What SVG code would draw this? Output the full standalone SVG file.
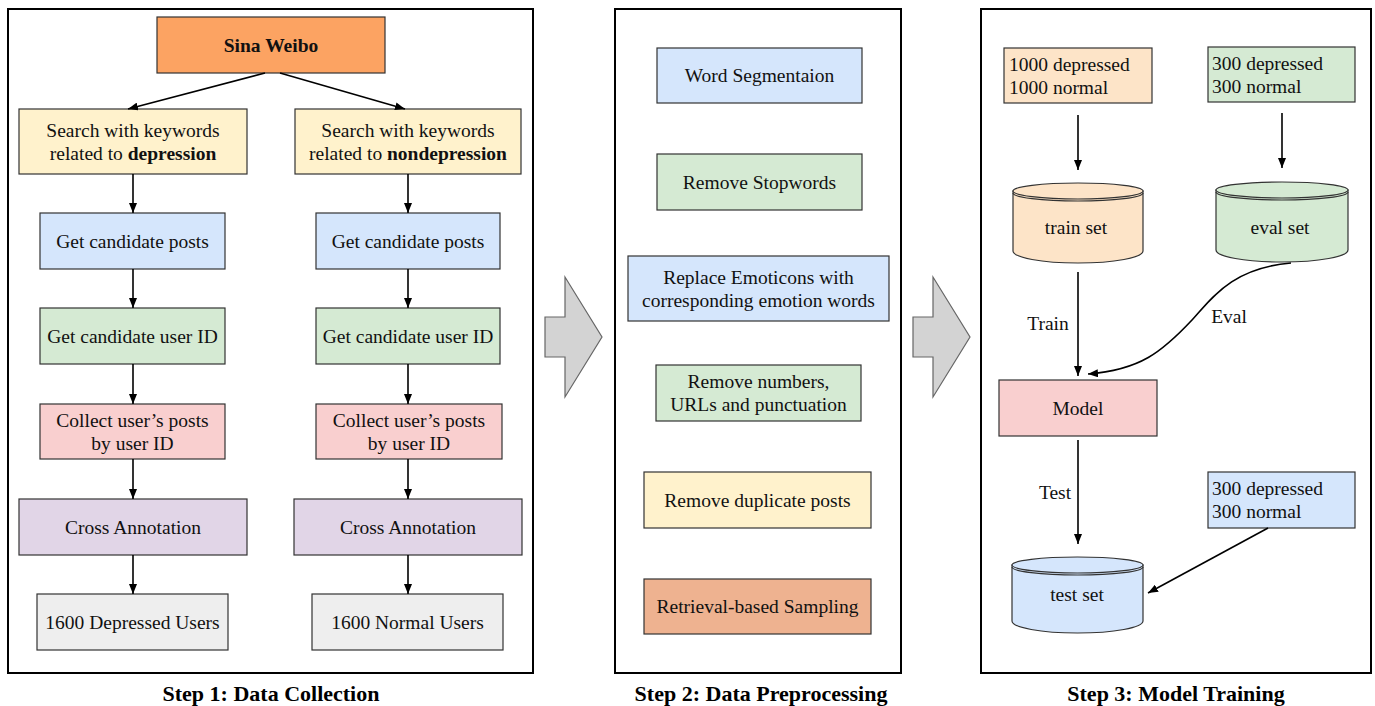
<svg xmlns="http://www.w3.org/2000/svg" width="1375" height="706" viewBox="0 0 1375 706">
  <defs>
    <marker id="ah" markerWidth="10" markerHeight="8" refX="10" refY="4" orient="auto" markerUnits="userSpaceOnUse">
      <path d="M0,0 L10,4 L0,8 Z" fill="#000"/>
    </marker>
    <style>
      .panel { fill: #fff; stroke: #000; stroke-width: 2; }
      .box { stroke: #333; stroke-width: 1.2; }
      .t { font-family: "Liberation Serif", "Times New Roman", serif; font-size: 19.5px; fill: #111; text-anchor: middle; }
      .tl { font-family: "Liberation Serif", "Times New Roman", serif; font-size: 19.5px; fill: #111; text-anchor: start; }
      .b { font-weight: bold; }
      .title { font-family: "Liberation Serif", "Times New Roman", serif; font-size: 22px; font-weight: bold; fill: #000; text-anchor: middle; }
      .conn { stroke: #000; stroke-width: 1.6; fill: none; }
      .big { fill: #d3d3d3; stroke: #666; stroke-width: 1.2; }
      .orange { fill: #fca362; }
      .yellow { fill: #fff2cc; }
      .blue { fill: #d5e6fc; }
      .green { fill: #d5ead3; }
      .pink { fill: #f9cfcf; }
      .purple { fill: #e1d5e7; }
      .gray { fill: #eeeeee; }
      .salmon { fill: #eeb290; }
      .peach { fill: #fde4c8; }
    </style>
  </defs>

  <!-- panel frames -->
  <rect class="panel" x="8" y="9" width="525" height="664"/>
  <rect class="panel" x="615" y="9" width="286" height="664"/>
  <rect class="panel" x="981" y="9" width="390" height="664"/>

  <!-- block arrows between stages -->
  <polygon class="big" points="545,317 565,317 565,277 602,337 565,397 565,357 545,357"/>
  <polygon class="big" points="913,317 933,317 933,277 970,337 933,397 933,357 913,357"/>

  <!-- Step 1: data collection -->
  <g id="sina-weibo">
    <rect class="box orange" x="157" y="17" width="228" height="56"/>
    <text class="t b" x="271" y="52">Sina Weibo</text>
  </g>
  <g id="search-dep">
    <rect class="box yellow" x="19" y="109" width="228" height="65"/>
    <text class="t" x="133" y="136.5">Search with keywords</text>
    <text class="t" x="133" y="160">related to <tspan class="b">depression</tspan></text>
  </g>
  <g id="search-nondep">
    <rect class="box yellow" x="295" y="109" width="226" height="65"/>
    <text class="t" x="408" y="136.5">Search with keywords</text>
    <text class="t" x="408" y="160">related to <tspan class="b">nondepression</tspan></text>
  </g>
  <g id="posts-dep">
    <rect class="box blue" x="40" y="213" width="185" height="56"/>
    <text class="t" x="132.5" y="248">Get candidate posts</text>
  </g>
  <g id="posts-nondep">
    <rect class="box blue" x="316" y="213" width="184" height="56"/>
    <text class="t" x="408" y="248">Get candidate posts</text>
  </g>
  <g id="uid-dep">
    <rect class="box green" x="40" y="308" width="185" height="56"/>
    <text class="t" x="132.5" y="343">Get candidate user ID</text>
  </g>
  <g id="uid-nondep">
    <rect class="box green" x="316" y="308" width="184" height="56"/>
    <text class="t" x="408" y="343">Get candidate user ID</text>
  </g>
  <g id="collect-dep">
    <rect class="box pink" x="40" y="404" width="185" height="55"/>
    <text class="t" x="132.5" y="427">Collect user’s posts</text>
    <text class="t" x="132.5" y="450">by user ID</text>
  </g>
  <g id="collect-nondep">
    <rect class="box pink" x="316" y="404" width="186" height="55"/>
    <text class="t" x="409" y="427">Collect user’s posts</text>
    <text class="t" x="409" y="450">by user ID</text>
  </g>
  <g id="annot-dep">
    <rect class="box purple" x="19" y="499" width="228" height="56"/>
    <text class="t" x="133" y="534">Cross Annotation</text>
  </g>
  <g id="annot-nondep">
    <rect class="box purple" x="294" y="499" width="228" height="56"/>
    <text class="t" x="408" y="534">Cross Annotation</text>
  </g>
  <g id="users-dep">
    <rect class="box gray" x="37" y="594" width="191" height="56"/>
    <text class="t" x="132.5" y="629">1600 Depressed Users</text>
  </g>
  <g id="users-nondep">
    <rect class="box gray" x="312" y="594" width="191" height="56"/>
    <text class="t" x="407.5" y="629">1600 Normal Users</text>
  </g>

  <!-- Step 2: preprocessing -->
  <g id="segment">
    <rect class="box blue" x="657" y="48" width="205" height="55"/>
    <text class="t" x="759.5" y="82">Word Segmentaion</text>
  </g>
  <g id="stopwords">
    <rect class="box green" x="657" y="154" width="205" height="56"/>
    <text class="t" x="759.5" y="189">Remove Stopwords</text>
  </g>
  <g id="emoticons">
    <rect class="box blue" x="628" y="256" width="261" height="65"/>
    <text class="t" x="758.5" y="283.5">Replace Emoticons with</text>
    <text class="t" x="758.5" y="307">corresponding emotion words</text>
  </g>
  <g id="numbers">
    <rect class="box green" x="656" y="365" width="205" height="56"/>
    <text class="t" x="758.5" y="388">Remove numbers,</text>
    <text class="t" x="758.5" y="411">URLs and punctuation</text>
  </g>
  <g id="duplicates">
    <rect class="box yellow" x="644" y="472" width="227" height="56"/>
    <text class="t" x="757.5" y="507">Remove duplicate posts</text>
  </g>
  <g id="sampling">
    <rect class="box salmon" x="644" y="579" width="227" height="55"/>
    <text class="t" x="757.5" y="613">Retrieval-based Sampling</text>
  </g>

  <!-- Step 3: model training -->
  <g id="train-count">
    <rect class="box peach" x="1004" y="48" width="148" height="55"/>
    <text class="tl" x="1009" y="71">1000 depressed</text>
    <text class="tl" x="1009" y="94">1000 normal</text>
  </g>
  <g id="eval-count">
    <rect class="box green" x="1208" y="47" width="147" height="55"/>
    <text class="tl" x="1212" y="70">300 depressed</text>
    <text class="tl" x="1212" y="93">300 normal</text>
  </g>
  <g id="test-count">
    <rect class="box blue" x="1208" y="472" width="147" height="56"/>
    <text class="tl" x="1212" y="495">300 depressed</text>
    <text class="tl" x="1212" y="518">300 normal</text>
  </g>
  <g id="train-set">
    <path class="box peach" d="M1013,191 V251 A65,12 0 0 0 1143,251 V191 Z"/>
    <ellipse class="box peach" cx="1078" cy="191" rx="65" ry="8"/>
    <path d="M1013,193 A65,8 0 0 0 1143,193" fill="none" stroke="#333" stroke-width="1.2"/>
    <text class="t" x="1076" y="234">train set</text>
  </g>
  <g id="eval-set">
    <path class="box green" d="M1216,190 V250 A66,12 0 0 0 1348,250 V190 Z"/>
    <ellipse class="box green" cx="1282" cy="190" rx="66" ry="8"/>
    <path d="M1216,192 A66,8 0 0 0 1348,192" fill="none" stroke="#333" stroke-width="1.2"/>
    <text class="t" x="1280" y="234">eval set</text>
  </g>
  <g id="model">
    <rect class="box pink" x="999" y="380" width="158" height="56"/>
    <text class="t" x="1078" y="415">Model</text>
  </g>
  <g id="test-set">
    <path class="box blue" d="M1012,565 V621 A65.5,12 0 0 0 1143,621 V565 Z"/>
    <ellipse class="box blue" cx="1077.5" cy="565" rx="65.5" ry="8"/>
    <path d="M1012,567 A65.5,8 0 0 0 1143,567" fill="none" stroke="#333" stroke-width="1.2"/>
    <text class="t" x="1077" y="601">test set</text>
  </g>

  <!-- connectors -->
  <g id="connectors">
    <line class="conn" x1="265" y1="73" x2="128" y2="109" marker-end="url(#ah)"/>
    <line class="conn" x1="280" y1="73" x2="405" y2="109" marker-end="url(#ah)"/>

    <line class="conn" x1="133" y1="174" x2="133" y2="213" marker-end="url(#ah)"/>
    <line class="conn" x1="133" y1="269" x2="133" y2="308" marker-end="url(#ah)"/>
    <line class="conn" x1="133" y1="364" x2="133" y2="404" marker-end="url(#ah)"/>
    <line class="conn" x1="133" y1="459" x2="133" y2="499" marker-end="url(#ah)"/>
    <line class="conn" x1="133" y1="555" x2="133" y2="594" marker-end="url(#ah)"/>

    <line class="conn" x1="408" y1="174" x2="408" y2="213" marker-end="url(#ah)"/>
    <line class="conn" x1="408" y1="269" x2="408" y2="308" marker-end="url(#ah)"/>
    <line class="conn" x1="408" y1="364" x2="408" y2="404" marker-end="url(#ah)"/>
    <line class="conn" x1="408" y1="459" x2="408" y2="499" marker-end="url(#ah)"/>
    <line class="conn" x1="408" y1="555" x2="408" y2="594" marker-end="url(#ah)"/>

    <line class="conn" x1="1078" y1="115" x2="1078" y2="170" marker-end="url(#ah)"/>
    <line class="conn" x1="1282" y1="113" x2="1282" y2="168" marker-end="url(#ah)"/>
    <line class="conn" x1="1078" y1="272" x2="1078" y2="376" marker-end="url(#ah)"/>
    <path class="conn" d="M1291,263 C1232,268 1212,298 1192,320 C1162,352 1140,370 1088,374" marker-end="url(#ah)"/>
    <line class="conn" x1="1078" y1="440" x2="1078" y2="544" marker-end="url(#ah)"/>
    <line class="conn" x1="1268" y1="528" x2="1148" y2="593" marker-end="url(#ah)"/>

    <text class="t" x="1048" y="330">Train</text>
    <text class="t" x="1229" y="323">Eval</text>
    <text class="t" x="1055" y="499">Test</text>
  </g>

  <!-- stage captions -->
  <text class="title" x="271" y="701">Step 1: Data Collection</text>
  <text class="title" x="761" y="701">Step 2: Data Preprocessing</text>
  <text class="title" x="1176" y="701">Step 3: Model Training</text>
</svg>
